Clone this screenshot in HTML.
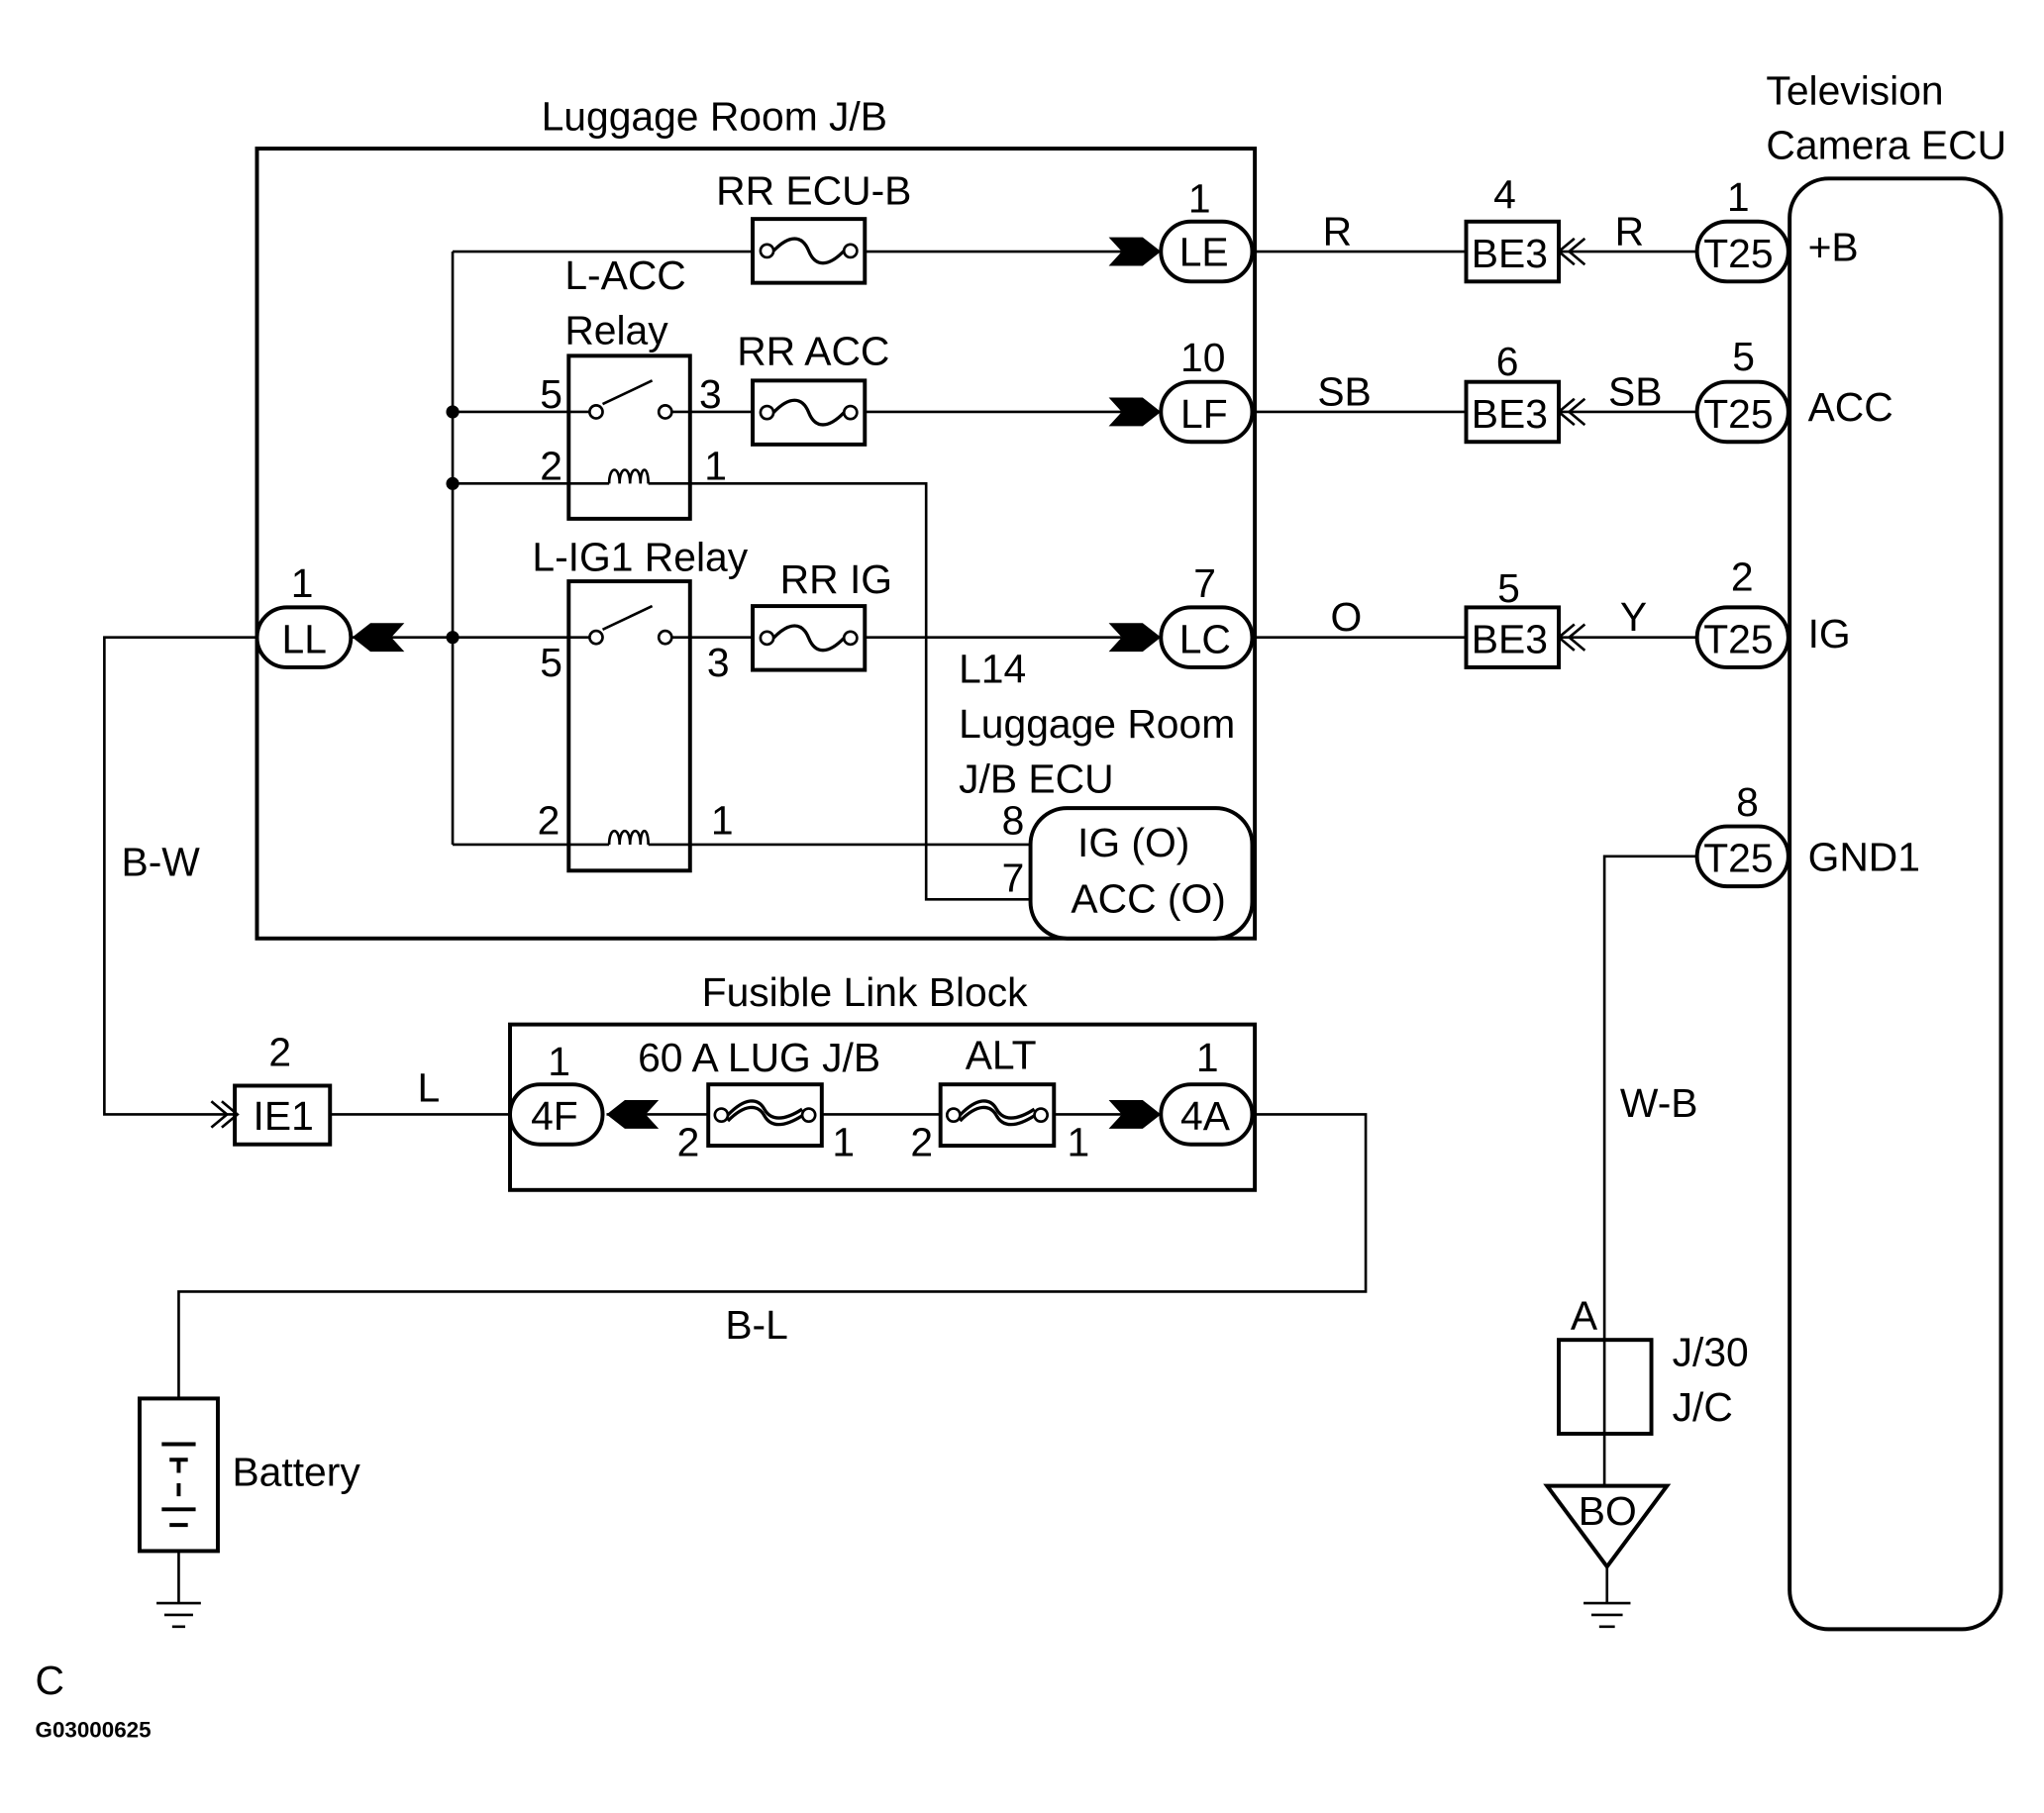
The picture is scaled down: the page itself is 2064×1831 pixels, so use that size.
<!DOCTYPE html>
<html><head><meta charset="utf-8"><style>
html,body{margin:0;padding:0;background:#fff;}
svg{display:block;}
text{font-family:"Liberation Sans",Arial,sans-serif;font-size:31px;fill:#000;}
</style></head><body>
<svg width="2064" height="1831" viewBox="0 0 1567 1391" preserveAspectRatio="none" xmlns="http://www.w3.org/2000/svg">
<defs>
<g id="fuse"><rect x="0" y="0" width="86" height="49" fill="#fff" stroke="#000" stroke-width="3"/><circle cx="11" cy="24.5" r="5" fill="#fff" stroke="#000" stroke-width="2"/><circle cx="75" cy="24.5" r="5" fill="#fff" stroke="#000" stroke-width="2"/><path d="M16,24.5 C28,12 38,12 43,24.5 C48,37 58,37 70,24.5" fill="none" stroke="#000" stroke-width="2.5"/></g>
<g id="fl"><rect x="0" y="0" width="87" height="47" fill="#fff" stroke="#000" stroke-width="3"/><circle cx="10" cy="23.5" r="5" fill="#fff" stroke="#000" stroke-width="2"/><circle cx="77" cy="23.5" r="5" fill="#fff" stroke="#000" stroke-width="2"/><path d="M15,23.5 C28,10 38,10 43,19 C48,28 58,28 72,19 M15,28 C28,15 38,15 43,24 C48,33 58,33 72,24" fill="none" stroke="#000" stroke-width="2.5"/></g>
<polygon id="arR" points="-40,-11 -14,-11 0,0 -14,11 -40,11 -30,0" fill="#000"/>
<path id="chev" d="M0,-10 L-12,0 L0,10 M8,-10 L-4,0 L8,10" fill="none" stroke="#000" stroke-width="2"/>
</defs>
<g fill="none" stroke="#000" stroke-width="2">
<rect x="197" y="114" width="765" height="606" stroke-width="3"/>
<path d="M347,193 V648"/>
<path d="M347,193 H577 M663,193 H860"/>
<path d="M347,316 H436 M529,316 H577 M663,316 H860"/>
<path d="M347,371 H436 M529,371 H710 V690 H790"/>
<path d="M270,489 H436 M529,489 H577 M663,489 H860"/>
<path d="M347,648 H436 M529,648 H790"/>
<rect x="436" y="273" width="93" height="125" stroke-width="3" fill="#fff"/>
<rect x="436" y="446" width="93" height="222" stroke-width="3" fill="#fff"/>
<path d="M452,316 H436 M515,316 H529 M462,310 L500,292"/>
<path d="M452,489 H436 M515,489 H529 M462,483 L500,465"/>
<circle cx="457" cy="316" r="5" fill="#fff"/><circle cx="510" cy="316" r="5" fill="#fff"/>
<circle cx="457" cy="489" r="5" fill="#fff"/><circle cx="510" cy="489" r="5" fill="#fff"/>
<path d="M436,371 H467 M497,371 H529 M436,648 H467 M497,648 H529"/>
<path d="M467,371 c0,-14 8,-14 8,0 c0,-14 8,-14 8,0 c0,-14 8,-14 8,0 c0,-14 6,-14 6,0"/>
<path d="M467,648 c0,-14 8,-14 8,0 c0,-14 8,-14 8,0 c0,-14 8,-14 8,0 c0,-14 6,-14 6,0"/>
<rect x="790" y="620" width="170" height="100" rx="28" stroke-width="3" fill="#fff"/>
<path d="M960,193 H1124 M1195,193 H1300 M960,316 H1124 M1195,316 H1300 M960,489 H1124 M1195,489 H1300"/>
<path d="M1300,657 H1230 V1028"/>
<rect x="1124" y="170" width="71" height="46" stroke-width="3"/>
<rect x="1124" y="293" width="71" height="46" stroke-width="3"/>
<rect x="1124" y="466" width="71" height="46" stroke-width="3"/>
<rect x="1372" y="137" width="162" height="1113" rx="30" stroke-width="3"/>
<rect x="1195" y="1028" width="71" height="72" stroke-width="3"/>
<path d="M1230,1028 V1140"/>
<polygon points="1186,1140 1278,1140 1232,1202" stroke-width="3"/>
<path d="M1232,1202 V1230 M1214,1230 H1250 M1220,1239 H1244 M1226,1248 H1238"/>
<path d="M197,489 H80 V855 H180"/>
<rect x="180" y="833" width="73" height="45" stroke-width="3"/>
<path d="M253,855 H391"/>
<rect x="391" y="786" width="571" height="127" stroke-width="3"/>
<path d="M465,855 H543 M630,855 H721 M807,855 H860"/>
<path d="M960,855 H1047 V991 H137 V1073"/>
<rect x="107" y="1073" width="60" height="117" stroke-width="3"/>
<path d="M124,1108 H150 M130,1120 H144 M137,1120 V1130 M137,1138 V1148 M124,1158 H150 M130,1170 H144" stroke-width="3"/>
<path d="M137,1190 V1230 M120,1230 H154 M126,1239 H148 M132,1248 H142"/>
</g>
<g fill="#fff" stroke="#000" stroke-width="3">
<rect x="197" y="466" width="72" height="46" rx="23"/>
<rect x="890" y="170" width="70" height="46" rx="23"/>
<rect x="890" y="293" width="70" height="46" rx="23"/>
<rect x="890" y="466" width="70" height="46" rx="23"/>
<rect x="1301" y="170" width="70" height="46" rx="23"/>
<rect x="1301" y="293" width="70" height="46" rx="23"/>
<rect x="1301" y="466" width="70" height="46" rx="23"/>
<rect x="1301" y="634" width="70" height="46" rx="23"/>
<rect x="391" y="832" width="71" height="46" rx="23"/>
<rect x="890" y="832" width="70" height="46" rx="23"/>
</g>
<use href="#fuse" x="577" y="168"/>
<use href="#fuse" x="577" y="292"/>
<use href="#fuse" x="577" y="465"/>
<use href="#fl" x="543" y="832"/>
<use href="#fl" x="721" y="832"/>
<use href="#arR" x="890" y="193"/>
<use href="#arR" x="890" y="316"/>
<use href="#arR" x="890" y="489"/>
<use href="#arR" x="890" y="855"/>
<use href="#arR" transform="translate(270,489) scale(-1,1)"/>
<use href="#arR" transform="translate(465,855) scale(-1,1)"/>
<use href="#chev" x="1207" y="193"/>
<use href="#chev" x="1207" y="316"/>
<use href="#chev" x="1207" y="489"/>
<use href="#chev" transform="translate(170,855) scale(-1,1)"/>
<g fill="#000"><circle cx="347" cy="316" r="5"/><circle cx="347" cy="371" r="5"/><circle cx="347" cy="489" r="5"/></g>
<text x="415" y="100">Luggage Room J/B</text>
<text x="549" y="157">RR  ECU-B</text>
<text x="433" y="222">L-ACC</text>
<text x="433" y="264">Relay</text>
<text x="565" y="280">RR ACC</text>
<text x="408" y="438">L-IG1  Relay</text>
<text x="598" y="455">RR IG</text>
<text x="414" y="313">5</text><text x="536" y="313">3</text>
<text x="414" y="368">2</text><text x="540" y="368">1</text>
<text x="414" y="519">5</text><text x="542" y="519">3</text>
<text x="412" y="640">2</text><text x="545" y="640">1</text>
<text x="223" y="458">1</text>
<text x="216" y="501">LL</text>
<text x="911" y="163">1</text><text x="904" y="204">LE</text>
<text x="905" y="285">10</text><text x="905" y="328">LF</text>
<text x="915" y="458">7</text><text x="904" y="501">LC</text>
<text x="735" y="524">L14</text>
<text x="735" y="566">Luggage Room</text>
<text x="735" y="608">J/B ECU</text>
<text x="768" y="640">8</text><text x="768" y="684">7</text>
<text x="826" y="657">IG (O)</text>
<text x="821" y="700">ACC (O)</text>
<text x="1014" y="188">R</text><text x="1010" y="311">SB</text><text x="1020" y="484">O</text>
<text x="1145" y="160">4</text><text x="1147" y="288">6</text><text x="1148" y="462">5</text>
<text x="1128" y="205">BE3</text><text x="1128" y="328">BE3</text><text x="1128" y="501">BE3</text>
<text x="1238" y="188">R</text><text x="1233" y="311">SB</text><text x="1242" y="484">Y</text>
<text x="1324" y="162">1</text><text x="1328" y="284">5</text><text x="1327" y="453">2</text><text x="1331" y="626">8</text>
<text x="1306" y="205">T25</text><text x="1306" y="328">T25</text><text x="1306" y="501">T25</text><text x="1306" y="669">T25</text>
<text x="1386" y="200">+B</text><text x="1386" y="323">ACC</text><text x="1386" y="497">IG</text><text x="1386" y="668">GND1</text>
<text x="1354" y="80">Television</text>
<text x="1354" y="122">Camera ECU</text>
<text x="1242" y="857">W-B</text>
<text x="1204" y="1020">A</text>
<text x="1282" y="1048">J/30</text>
<text x="1282" y="1090">J/C</text>
<text x="1210" y="1170">BO</text>
<text x="93" y="672">B-W</text>
<text x="206" y="818">2</text><text x="194" y="867">IE1</text>
<text x="320" y="845">L</text>
<text x="538" y="772">Fusible Link Block</text>
<text x="420" y="825">1</text><text x="407" y="867">4F</text>
<text x="489" y="822">60 A LUG J/B</text>
<text x="740" y="820">ALT</text>
<text x="519" y="887">2</text><text x="638" y="887">1</text>
<text x="698" y="887">2</text><text x="818" y="887">1</text>
<text x="917" y="822">1</text><text x="905" y="867">4A</text>
<text x="556" y="1027">B-L</text>
<text x="178" y="1140">Battery</text>
<text x="27" y="1300">C</text>
<text x="27" y="1333" style="font-size:17px;font-weight:bold">G03000625</text>
</svg>
</body></html>
